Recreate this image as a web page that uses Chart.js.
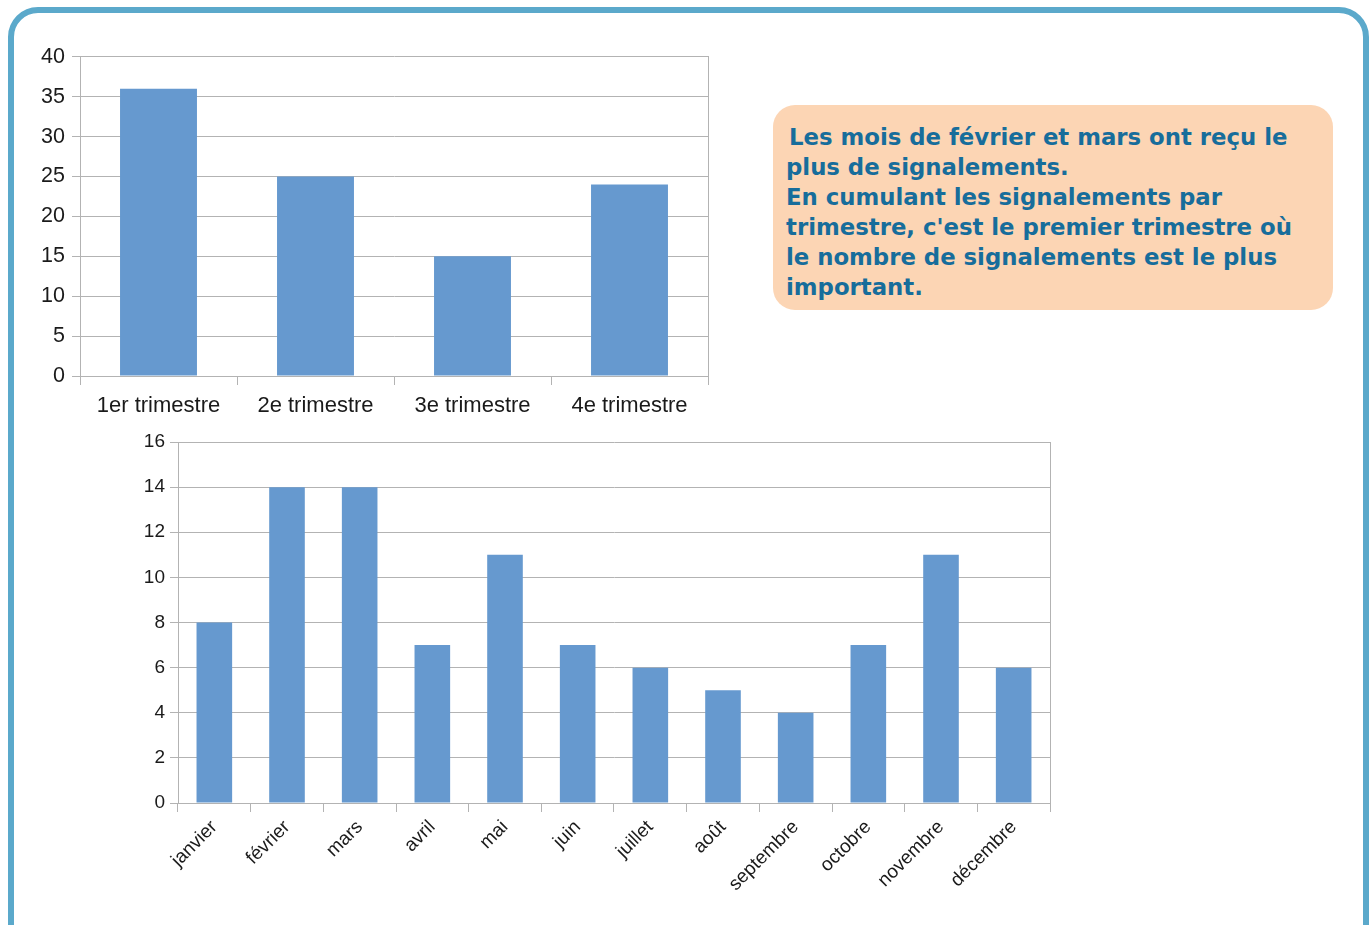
<!DOCTYPE html>
<html><head><meta charset="utf-8">
<script src="https://cdn.jsdelivr.net/npm/chart.js@4.4.1/dist/chart.umd.min.js"></script>
<style>
html,body{margin:0;padding:0;background:#fff;width:1370px;height:925px;overflow:hidden;}
#frame{position:absolute;left:8px;top:7px;width:1349px;height:940px;border:6px solid #5ba9cb;border-radius:30px;}
#c1wrap{position:absolute;left:20px;top:37px;width:698px;height:389px;}
#c2wrap{position:absolute;left:120px;top:425px;width:940px;height:488px;}
#note{position:absolute;left:773px;top:105px;width:560px;height:205px;background:#fcd5b4;border-radius:22px;box-sizing:border-box;padding:17px 22px 0 13px;
font-family:"DejaVu Sans",Verdana,sans-serif;font-weight:bold;font-size:22.8px;line-height:30px;color:#176d9b;}
</style></head>
<body>
<div id="frame"></div>
<div id="note"><span style="padding-left:3px"></span>Les mois de février et mars ont reçu le plus de signalements.<br>En cumulant les signalements par trimestre, c'est le premier trimestre où le nombre de signalements est le plus important.</div>
<div id="c1wrap"><canvas id="c1"></canvas></div>
<div id="c2wrap"><canvas id="c2"></canvas></div>
<script>
const quarterLabels = ["1er trimestre", "2e trimestre", "3e trimestre", "4e trimestre"];
const quarterValues = [36, 25, 15, 24];
const monthLabels = ["janvier", "février", "mars", "avril", "mai", "juin", "juillet", "août", "septembre", "octobre", "novembre", "décembre"];
const monthValues = [8, 14, 14, 7, 11, 7, 6, 5, 4, 7, 11, 6];

Chart.defaults.font.family = '"Liberation Sans", Arial, sans-serif';
Chart.defaults.color = '#1a1a1a';
const GRID = '#b3b3b3';
const BAR = '#6699cf';

function makeChart(id, labels, values, opt) {
  return new Chart(document.getElementById(id), {
    type: 'bar',
    data: { labels: labels, datasets: [{ data: values, backgroundColor: BAR, borderWidth: 0, barPercentage: 0.49, categoryPercentage: 1.0 }] },
    options: {
      responsive: true, maintainAspectRatio: false, animation: false,
      layout: { padding: { top: opt.padTop, right: 10, left: 0, bottom: 0 } },
      plugins: { legend: { display: false }, tooltip: { enabled: false } },
      scales: {
        x: {
          grid: { display: true, offset: true, drawOnChartArea: false, color: GRID, tickLength: 9 },
          border: { display: true, color: GRID },
          ticks: { font: { size: opt.xFont }, color: '#1a1a1a', padding: opt.xPad, minRotation: opt.rot, maxRotation: opt.rot, autoSkip: false },
          afterFit: s => { s.height = opt.xHeight; }
        },
        y: {
          min: 0, max: opt.max,
          grid: { color: GRID, tickLength: 8 },
          border: { display: true, color: GRID },
          ticks: { stepSize: opt.step, font: { size: opt.yFont }, color: '#1a1a1a', padding: opt.yPad },
          afterFit: s => { s.width = opt.yWidth; }
        },
        y2: {
          position: 'right', display: true,
          grid: { display: false },
          border: { display: true, color: GRID },
          ticks: { display: false },
          afterFit: s => { s.width = 0; }
        }
      }
    }
  });
}

makeChart('c1', quarterLabels, quarterValues, { padTop: 13, xFont: 22, xPad: 8, rot: 0, xHeight: 50, max: 40, step: 5, yFont: 21.5, yPad: 7, yWidth: 60 });
makeChart('c2', monthLabels, monthValues, { padTop: 17, xFont: 19, xPad: 4, rot: 45, xHeight: 110, max: 16, step: 2, yFont: 19, yPad: 5, yWidth: 58 });
</script>
</body></html>
